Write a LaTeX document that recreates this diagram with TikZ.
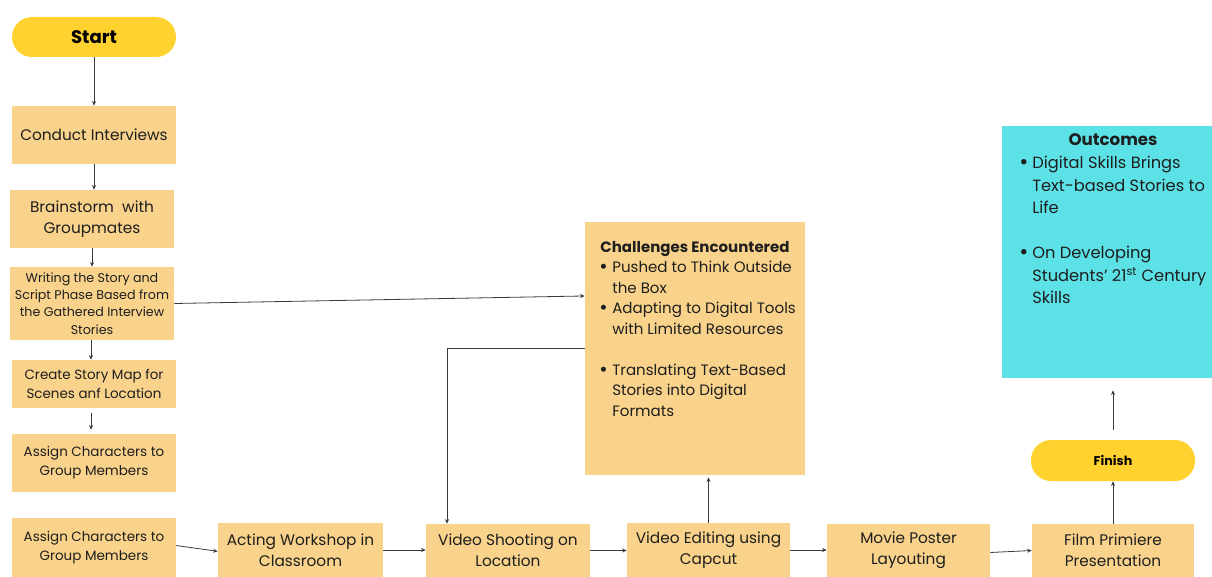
\documentclass[tikz,border=0pt]{standalone}
\usepackage{fontspec}
\setmainfont{Poppins}
\usetikzlibrary{arrows.meta}
\definecolor{boxc}{HTML}{F9D38B}
\definecolor{pillc}{HTML}{FFD22F}
\definecolor{cyanc}{HTML}{5CE1E6}
\definecolor{linec}{HTML}{3A3A3A}
\definecolor{txtc}{HTML}{1E1E1E}
\newcommand\bul{\makebox[9.75pt][l]{\raisebox{-0.1ex}{\scalebox{1.35}{•}}}}
\newcommand\ind{\hspace*{9.75pt}}
\begin{document}
\begin{tikzpicture}[x=0.75pt,y=-0.75pt,
  box/.style={fill=boxc, draw=none, inner sep=0pt, align=center, text=txtc, minimum width=123pt},
  pillbox/.style={fill=pillc, draw=none, rounded corners=15pt, inner sep=0pt, text=black, minimum width=123pt},
  conn/.style={draw=linec, line width=0.6pt, -{Stealth[length=3.5pt,width=3pt]}},
  big/.style={font=\fontsize{11.5}{16}\selectfont},
  mid/.style={font=\fontsize{10.1}{14.2}\selectfont},
  small/.style={font=\fontsize{9.5}{13.1}\selectfont}
]
\useasboundingbox (0,0) rectangle (1212,577);
% left column
\node[pillbox, minimum height=30pt, font=\fontsize{13.6}{15}\selectfont\bfseries] (start) at (94,37) {Start};
\node[box, big, minimum height=43.5pt] (ci) at (94,135) {Conduct Interviews};
\node[box, big, minimum height=43.5pt] (bs) at (92,219) {Brainstorm\ \ with\\Groupmates};
\node[box, small, minimum height=54.75pt] (wr) at (92,303.5) {Writing the Story and\\Script Phase Based from\\the Gathered Interview\\Stories};
\node[box, mid, minimum height=36pt] (cs) at (94,384) {Create Story Map for\\Scenes anf Location};
\node[box, mid, minimum height=43.5pt] (a1) at (94,463) {Assign Characters to\\Group Members};
\node[box, mid, minimum height=44.25pt] (a2) at (94,547.5) {Assign Characters to\\Group Members};
% bottom row
\node[box, big, minimum width=123.75pt, minimum height=40.5pt] (ac) at (300.5,550) {Acting Workshop in\\Classroom};
\node[box, big, minimum height=39.75pt] (sh) at (508,550.5) {Video Shooting on\\Location};
\node[box, big, minimum width=122.25pt, minimum height=40.5pt] (ed) at (708.5,550) {Video Editing using\\Capcut};
\node[box, big, minimum width=122.25pt, minimum height=39.75pt] (po) at (908.5,550.5) {Movie Poster\\Layouting};
\node[box, big, minimum width=121.5pt, minimum height=39.75pt] (fi) at (1113,550.5) {Film Primiere\\Presentation};
\node[pillbox, minimum height=30.75pt, font=\fontsize{9.5}{11}\selectfont\bfseries] (fin) at (1113,460.5) {Finish};
% challenges
\node[fill=boxc, draw=none, inner sep=0pt, minimum width=165pt, minimum height=189.75pt] (ch) at (695,348.5) {};
\node[font=\fontsize{11.25}{15.4}\selectfont\bfseries, text=txtc, inner sep=0pt] (cht) at (695,249) {Challenges Encountered};
\node[anchor=north west, align=left, inner sep=0pt, text=txtc, font=\fontsize{11.3}{15.4}\selectfont] (chl) at (599,261)
  {\bul Pushed to Think Outside\\ \ind the Box\\ \bul Adapting to Digital Tools\\ \ind with Limited Resources\\[15.4pt] \bul Translating Text-Based\\ \ind Stories into Digital\\ \ind Formats};
% outcomes
\node[fill=cyanc, draw=none, inner sep=0pt, minimum width=157.5pt, minimum height=189pt] (oc) at (1107,252) {};
\node[font=\fontsize{12.5}{16.9}\selectfont\bfseries, text=txtc, inner sep=0pt] (oct) at (1113,140) {Outcomes};
\node[anchor=north west, align=left, inner sep=0pt, text=txtc, font=\fontsize{12.2}{16.9}\selectfont] (ocl) at (1019,156)
  {\bul Digital Skills Brings\\ \ind Text-based Stories to\\ \ind Life\\[16.9pt] \bul On Developing\\ \ind Students’ 21\textsuperscript{st} Century\\ \ind Skills};
% connectors
\draw[conn] (start) -- (ci);
\draw[conn] (ci.south) -- (ci.south |- bs.north);
\draw[conn] (bs.south) -- (bs.south |- wr.north);
\draw[conn] ([xshift=-0.75pt]wr.south) -- ([xshift=-0.75pt]wr.south |- cs.north);
\draw[conn, shorten <=3.5pt, shorten >=3pt] ([xshift=-2.25pt]cs.south) -- ([xshift=-2.25pt]cs.south |- a1.north);
\draw[conn] (wr.east) -- ([yshift=39.4pt]ch.west);
\draw[conn] (ch.west) -| ([xshift=-45.75pt]sh.north);
\draw[conn, shorten >=1.5pt] (ed.north) -- (ed.north |- ch.south);
\draw[conn] ([yshift=1.5pt]a2.east) -- ([yshift=-1pt]ac.west);
\draw[conn] (ac.east) -- (ac.east -| sh.west);
\draw[conn] (sh.east) -- (sh.east -| ed.west);
\draw[conn] (ed.east) -- (ed.east -| po.west);
\draw[conn] ([yshift=-1.5pt]po.east) -- (fi.west);
\draw[conn] (fi.north) -- (fin.south);
\draw[conn, shorten <=7.5pt, shorten >=9pt] (fin.north) -- (fin.north |- oc.south);
\end{tikzpicture}
\end{document}
